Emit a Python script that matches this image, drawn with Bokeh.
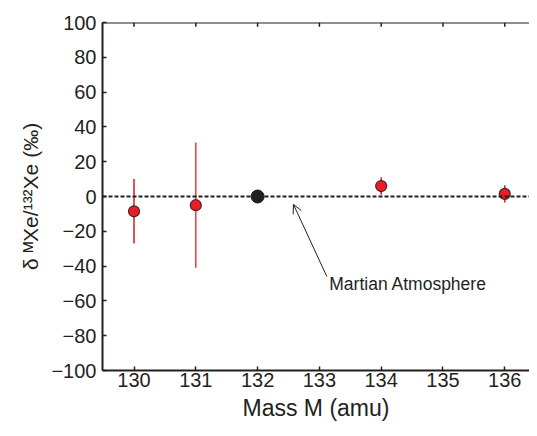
from bokeh.plotting import figure
from bokeh.models import FixedTicker, Span, Arrow, OpenHead, Label, Range1d, ColumnDataSource
from bokeh.embed import file_html
from bokeh.resources import INLINE

mass = [130, 131, 134, 136]
delta = [-8.5, -5.0, 6.0, 1.5]
err = [18.5, 36.0, 5.0, 5.0]
bar_colors = ["#d7191f", "#f0363c", "#e8141c", "#e8141c"]
ref_mass = [132]
ref_delta = [0.0]
x_ticks = [130, 131, 132, 133, 134, 135, 136]
y_ticks = [-100, -80, -60, -40, -20, 0, 20, 40, 60, 80, 100]

FONT = "Liberation Sans"
DARK = "#231f20"

p = figure(width=529, height=428, output_backend="svg", toolbar_location=None,
           x_range=Range1d(129.49, 136.4), y_range=Range1d(-100, 100),
           min_border_left=102, min_border_right=0, min_border_top=22, min_border_bottom=58)
p.outline_line_color = None
p.grid.visible = False
p.background_fill_color = "white"

for ax in [p.xaxis[0], p.yaxis[0]]:
    ax.axis_line_width = 2
    ax.axis_line_color = DARK
    ax.major_tick_in = 4
    ax.major_tick_out = 0
    ax.major_tick_line_color = DARK
    ax.major_tick_line_width = 1.5
    ax.minor_tick_line_color = None
    ax.major_label_text_font = FONT
    ax.major_label_text_font_size = "20px"
    ax.major_label_text_color = DARK
    ax.axis_label_text_font = FONT
    ax.axis_label_text_font_style = "normal"
    ax.axis_label_text_color = DARK

p.xaxis[0].ticker = FixedTicker(ticks=x_ticks)
p.yaxis[0].ticker = FixedTicker(ticks=y_ticks)
p.xaxis[0].axis_label = "Mass M (amu)"
p.yaxis[0].axis_label = "δ ᴹXe/¹³²Xe (‰)"
p.xaxis[0].axis_label_text_font_size = "23px"
p.yaxis[0].axis_label_text_font_size = "21px"
p.xaxis[0].major_label_standoff = 2
p.xaxis[0].axis_label_standoff = 5
p.yaxis[0].major_label_standoff = 6
p.yaxis[0].axis_label_standoff = 6
p.yaxis[0].major_label_overrides = {t: str(t).replace("-", "\u2212") for t in y_ticks}

# top frame line with inward ticks
p.add_layout(Span(location=100, dimension="width", line_color=DARK, line_width=2))
p.segment(x0=x_ticks, y0=[100] * len(x_ticks), x1=x_ticks, y1=[97.6] * len(x_ticks),
          line_color=DARK, line_width=1.5)

p.add_layout(Span(location=0, dimension="width", line_color=DARK, line_width=2, line_dash="4 2"))

src = ColumnDataSource(dict(x=mass, y=delta,
                            lo=[d - e for d, e in zip(delta, err)],
                            hi=[d + e for d, e in zip(delta, err)],
                            c=bar_colors))
p.segment(x0="x", y0="lo", x1="x", y1="hi", line_color="c", line_width=1.5, source=src)
p.scatter(x="x", y="y", size=11, fill_color="#ed1c24", line_color="#3a2a2a", line_width=1.2, source=src)
p.scatter(x=ref_mass, y=ref_delta, size=13, fill_color=DARK, line_color=DARK)

p.add_layout(Arrow(end=OpenHead(size=9, line_color=DARK, line_width=1), x_start=133.12, y_start=-46,
                   x_end=132.58, y_end=-4.5, line_color=DARK, line_width=1))
p.add_layout(Label(x=133.16, y=-50.5, text="Martian Atmosphere", text_font=FONT,
                   text_font_size="17.5px", text_color=DARK, text_baseline="middle"))

open("out.html", "w").write(file_html(p, INLINE))
